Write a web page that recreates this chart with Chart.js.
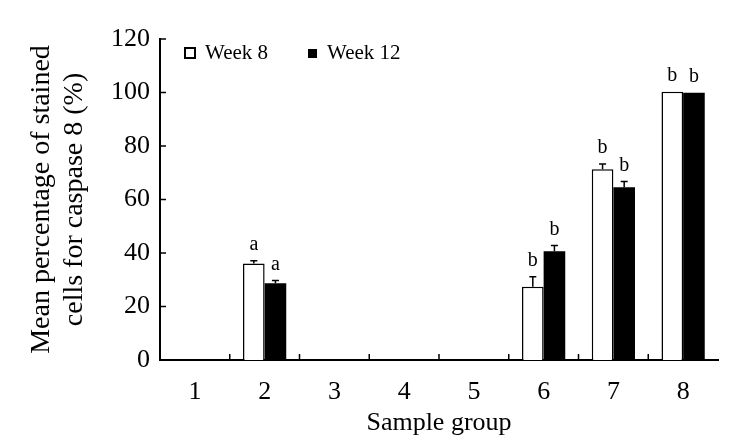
<!DOCTYPE html>
<html lang="en">
<head>
  <meta charset="UTF-8">
  <title>Caspase 8 staining</title>
  <script src="https://cdn.jsdelivr.net/npm/chart.js"></script>
  <style>
    body { margin: 0; background: #fff; }
    #wrap { width: 745px; height: 443px; }
  </style>
</head>
<body>
  <div id="wrap"><canvas id="chart"></canvas></div>

  <script>
    // Data
    const groups = ['1', '2', '3', '4', '5', '6', '7', '8'];
    const week8 = [0, 36.1, 0, 0, 0, 27.4, 71.3, 100.3];
    const week12 = [0, 28.7, 0, 0, 0, 40.7, 64.6, 99.9];
    const errWeek8 = [0, 1.0, 0, 0, 0, 3.7, 2.0, 0];
    const errWeek12 = [0, 1.0, 0, 0, 0, 2.1, 2.1, 0];
    const sigWeek8 = ['', 'a', '', '', '', 'b', 'b', 'b'];
    const sigWeek12 = ['', 'a', '', '', '', 'b', 'b', 'b'];
    const yTicks = [0, 20, 40, 60, 80, 100, 120];

    const serif = 'Liberation Serif, Times New Roman, serif';

    // error bars, significance letters, inside ticks and legend
    const extras = {
      id: 'extras',
      afterDatasetsDraw(chart) {
        const ctx = chart.ctx;
        const y = chart.scales.y;
        const errs = [errWeek8, errWeek12];
        const sigs = [sigWeek8, sigWeek12];
        ctx.save();
        ctx.strokeStyle = '#000';
        ctx.fillStyle = '#000';
        ctx.lineWidth = 1.5;
        ctx.font = '20px ' + serif;
        ctx.textAlign = 'center';
        ctx.textBaseline = 'alphabetic';
        chart.data.datasets.forEach((ds, d) => {
          const meta = chart.getDatasetMeta(d);
          meta.data.forEach((bar, i) => {
            const v = ds.data[i];
            const e = errs[d][i];
            const top = y.getPixelForValue(v + e);
            if (e > 0) {
              ctx.beginPath();
              ctx.moveTo(bar.x, y.getPixelForValue(v));
              ctx.lineTo(bar.x, top);
              ctx.moveTo(bar.x - 3.5, top);
              ctx.lineTo(bar.x + 3.5, top);
              ctx.stroke();
            }
            if (sigs[d][i]) ctx.fillText(sigs[d][i], bar.x, top - 11);
          });
        });
        ctx.restore();
      },
      afterDraw(chart) {
        const ctx = chart.ctx;
        const x = chart.scales.x;
        const y = chart.scales.y;
        const area = chart.chartArea;
        ctx.save();
        ctx.strokeStyle = '#000';
        ctx.lineWidth = 1.5;
        ctx.beginPath();
        yTicks.forEach(t => {
          const py = y.getPixelForValue(t);
          ctx.moveTo(area.left, py);
          ctx.lineTo(area.left + 6, py);
        });
        for (let i = 1; i < groups.length; i++) {
          const px = (x.getPixelForValue(i - 1) + x.getPixelForValue(i)) / 2;
          ctx.moveTo(px, area.bottom);
          ctx.lineTo(px, area.bottom - 6);
        }
        ctx.stroke();

        // legend
        ctx.font = '21px ' + serif;
        ctx.textBaseline = 'middle';
        ctx.fillStyle = '#000';
        const ly = area.top + 14;
        ctx.lineWidth = 2;
        ctx.strokeRect(area.left + 25, ly - 5, 10, 10);
        ctx.fillText(chart.data.datasets[0].label, area.left + 45, ly);
        ctx.fillRect(area.left + 148, ly - 4, 9, 9);
        ctx.fillText(chart.data.datasets[1].label, area.left + 167, ly);
        ctx.restore();
      }
    };

    new Chart(document.getElementById('chart'), {
      type: 'bar',
      data: {
        labels: groups,
        datasets: [
          {
            label: 'Week 8',
            data: week8,
            backgroundColor: '#fff',
            borderColor: '#000',
            borderWidth: 1.5,
            categoryPercentage: 0.62,
            barPercentage: 1.0
          },
          {
            label: 'Week 12',
            data: week12,
            backgroundColor: '#000',
            borderColor: '#000',
            borderWidth: 0,
            categoryPercentage: 0.62,
            barPercentage: 1.0
          }
        ]
      },
      options: {
        responsive: true,
        maintainAspectRatio: false,
        animation: false,
        layout: { padding: { top: 39, right: 27, left: 0, bottom: 0 } },
        plugins: {
          legend: { display: false },
          tooltip: { enabled: false }
        },
        scales: {
          x: {
            grid: { display: false },
            border: { display: true, color: '#000', width: 2 },
            ticks: {
              color: '#000',
              padding: 9,
              font: { family: serif, size: 26 }
            },
            title: {
              display: true,
              text: 'Sample group',
              color: '#000',
              font: { family: serif, size: 26 },
              padding: { top: 0, bottom: 4 }
            },
            afterFit(scale) { scale.height = 83; }
          },
          y: {
            min: 0,
            max: 120,
            afterBuildTicks(scale) { scale.ticks = yTicks.map(v => ({ value: v })); },
            grid: { display: false },
            border: { display: true, color: '#000', width: 2 },
            ticks: {
              color: '#000',
              padding: 2,
              font: { family: serif, size: 26 }
            },
            title: {
              display: true,
              text: ['Mean percentage of stained', 'cells for caspase 8 (%)'],
              color: '#000',
              font: { family: serif, size: 28, lineHeight: 1.18 },
              padding: { top: 25, bottom: 0 }
            },
            afterFit(scale) { scale.width = 160; }
          }
        }
      },
      plugins: [extras]
    });
  </script>
</body>
</html>
